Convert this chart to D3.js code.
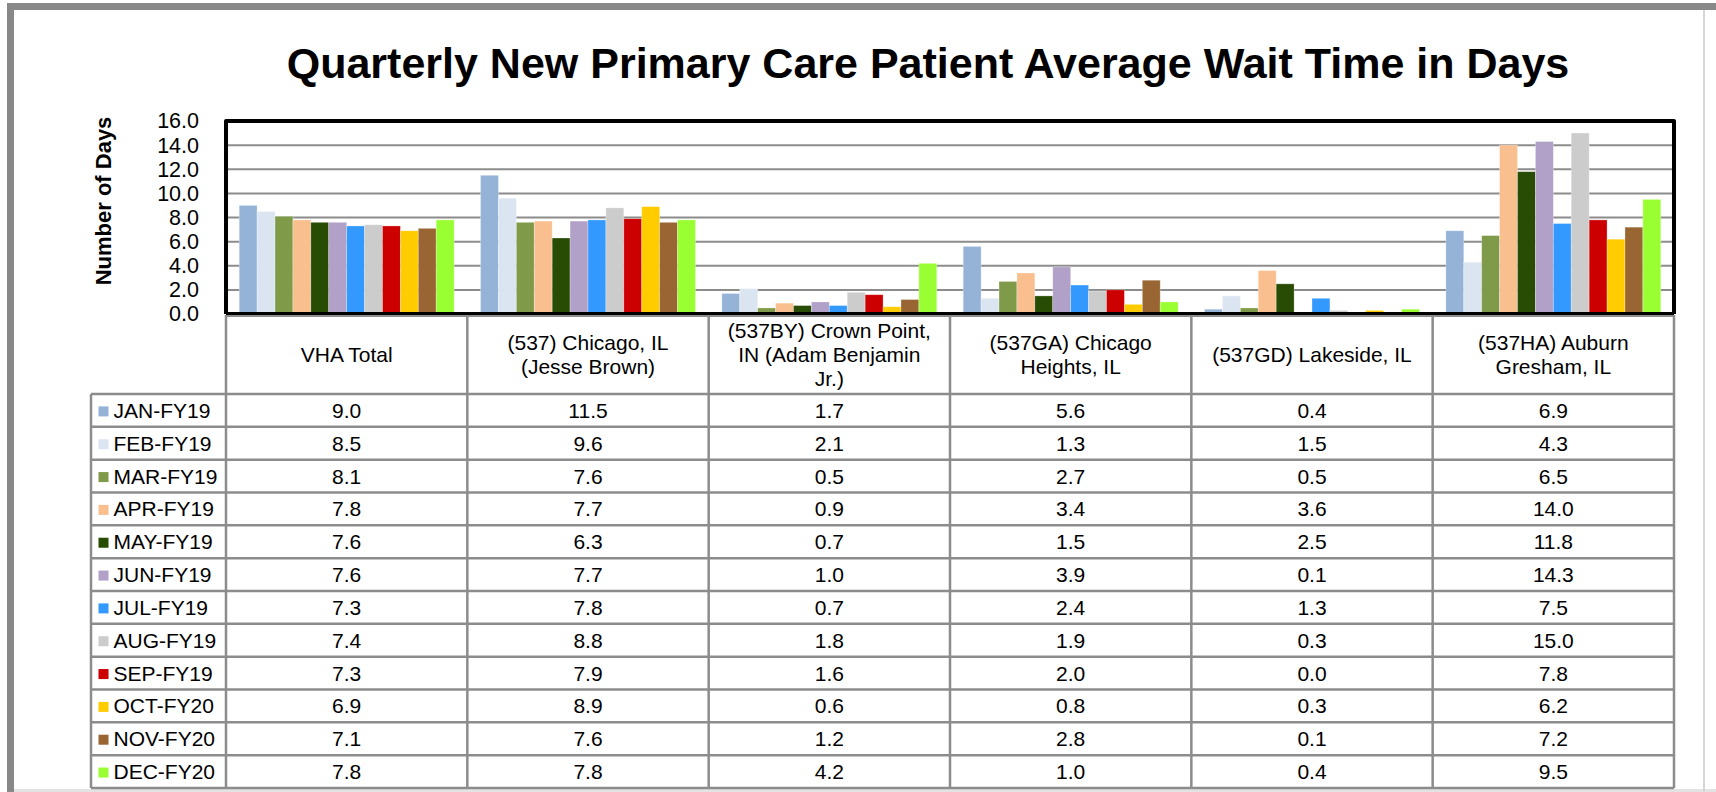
<!DOCTYPE html>
<html>
<head>
<meta charset="utf-8">
<script src="https://cdn.jsdelivr.net/npm/d3@7"></script>
<style>
  body { margin: 0; background: #fff; }
  svg { display: block; font-family: "Liberation Sans", Arial, sans-serif; }
</style>
</head>
<body>
<div id="chart"></div>
<script>
// DATA
var categories = [
  [ 'VHA Total' ],
  [ '(537) Chicago, IL', '(Jesse Brown)' ],
  [ '(537BY) Crown Point,', 'IN (Adam Benjamin', 'Jr.)' ],
  [ '(537GA) Chicago', 'Heights, IL' ],
  [ '(537GD) Lakeside, IL' ],
  [ '(537HA) Auburn', 'Gresham, IL' ]
];

var months = [ 'JAN-FY19', 'FEB-FY19', 'MAR-FY19', 'APR-FY19', 'MAY-FY19', 'JUN-FY19',
  'JUL-FY19', 'AUG-FY19', 'SEP-FY19', 'OCT-FY20', 'NOV-FY20', 'DEC-FY20' ];

var janFY19 = [ 9.0, 11.5, 1.7, 5.6, 0.4, 6.9 ];
var febFY19 = [ 8.5, 9.6, 2.1, 1.3, 1.5, 4.3 ];
var marFY19 = [ 8.1, 7.6, 0.5, 2.7, 0.5, 6.5 ];
var aprFY19 = [ 7.8, 7.7, 0.9, 3.4, 3.6, 14.0 ];
var mayFY19 = [ 7.6, 6.3, 0.7, 1.5, 2.5, 11.8 ];
var junFY19 = [ 7.6, 7.7, 1.0, 3.9, 0.1, 14.3 ];
var julFY19 = [ 7.3, 7.8, 0.7, 2.4, 1.3, 7.5 ];
var augFY19 = [ 7.4, 8.8, 1.8, 1.9, 0.3, 15.0 ];
var sepFY19 = [ 7.3, 7.9, 1.6, 2.0, 0.0, 7.8 ];
var octFY20 = [ 6.9, 8.9, 0.6, 0.8, 0.3, 6.2 ];
var novFY20 = [ 7.1, 7.6, 1.2, 2.8, 0.1, 7.2 ];
var decFY20 = [ 7.8, 7.8, 4.2, 1.0, 0.4, 9.5 ];

var series = [ janFY19, febFY19, marFY19, aprFY19, mayFY19, junFY19,
  julFY19, augFY19, sepFY19, octFY20, novFY20, decFY20 ];

var yTicks = [ 0, 2, 4, 6, 8, 10, 12, 14, 16 ];

var monthColors = [ '#95b3d7', '#dbe5f1', '#7f9a48', '#f9bf8f', '#284c03', '#b1a0c7',
  '#3399ff', '#cccccc', '#cc0000', '#ffcc00', '#996633', '#99ff33' ];

// LAYOUT
var width = 1716, height = 792;
var plotLeft = 226, plotRight = 1674, plotTop = 121, plotBottom = 314;
var headerBottom = 394, rowHeight = 32.83;
var legendLeft = 91;
var gridColor = '#8c8c8c';
var fontSize = 21;

var svg = d3.select( '#chart' ).append( 'svg' )
  .attr( 'width', width )
  .attr( 'height', height );

// outer frame
svg.append( 'rect' ).attr( 'x', 7 ).attr( 'y', 3 ).attr( 'width', width - 7 ).attr( 'height', 7 ).attr( 'fill', '#888' );
svg.append( 'rect' ).attr( 'x', 7 ).attr( 'y', 3 ).attr( 'width', 7 ).attr( 'height', height - 3 ).attr( 'fill', '#888' );
svg.append( 'rect' ).attr( 'x', 14 ).attr( 'y', 789 ).attr( 'width', width - 14 ).attr( 'height', 3 ).attr( 'fill', '#e3e3e3' );
svg.append( 'rect' ).attr( 'x', 1703 ).attr( 'y', 10 ).attr( 'width', 2 ).attr( 'height', height - 10 ).attr( 'fill', '#d6d6d6' );

// SCALES
var x0 = d3.scaleBand()
  .domain( d3.range( categories.length ) )
  .range( [ plotLeft, plotRight ] );

var barPad = 13.2;
var x1 = d3.scaleBand()
  .domain( d3.range( months.length ) )
  .range( [ barPad, x0.bandwidth() - barPad ] );

var y = d3.scaleLinear()
  .domain( [ 0, 16 ] )
  .range( [ plotBottom, plotTop ] );

// title
svg.append( 'text' )
  .attr( 'x', 928 )
  .attr( 'y', 78 )
  .attr( 'text-anchor', 'middle' )
  .attr( 'font-size', '43px' )
  .attr( 'font-weight', 'bold' )
  .attr( 'fill', '#000' )
  .text( 'Quarterly New Primary Care Patient Average Wait Time in Days' );

// y axis title
svg.append( 'text' )
  .attr( 'transform', 'translate(111,201) rotate(-90)' )
  .attr( 'text-anchor', 'middle' )
  .attr( 'font-size', '22px' )
  .attr( 'font-weight', 'bold' )
  .attr( 'fill', '#000' )
  .text( 'Number of Days' );

// gridlines
svg.selectAll( '.grid' )
  .data( yTicks.filter( function( d ) { return d > 0 && d < 16; } ) )
  .enter()
  .append( 'line' )
  .attr( 'class', 'grid' )
  .attr( 'x1', plotLeft )
  .attr( 'x2', plotRight )
  .attr( 'y1', function( d ) { return y( d ); } )
  .attr( 'y2', function( d ) { return y( d ); } )
  .attr( 'stroke', gridColor )
  .attr( 'stroke-width', 2 );

// y axis labels
var yAxis = d3.axisLeft( y )
  .tickValues( yTicks )
  .tickFormat( d3.format( '.1f' ) )
  .tickSize( 0 )
  .tickPadding( 27 );

var yAxisG = svg.append( 'g' )
  .attr( 'transform', 'translate(' + plotLeft + ',0)' )
  .call( yAxis );
yAxisG.select( '.domain' ).remove();
yAxisG.selectAll( 'text' )
  .attr( 'font-family', '"Liberation Sans", Arial, sans-serif' )
  .attr( 'font-size', '21.5px' )
  .attr( 'fill', '#000' );

// bars
var groups = svg.selectAll( '.cat' )
  .data( categories )
  .enter()
  .append( 'g' )
  .attr( 'class', 'cat' )
  .attr( 'transform', function( d, i ) { return 'translate(' + x0( i ) + ',0)'; } );

groups.selectAll( 'rect' )
  .data( function( d, i ) {
    return series.map( function( s, m ) { return { m: m, v: s[ i ] }; } );
  } )
  .enter()
  .append( 'rect' )
  .attr( 'x', function( d ) { return x1( d.m ); } )
  .attr( 'width', x1.bandwidth() )
  .attr( 'y', function( d ) { return y( d.v ); } )
  .attr( 'height', function( d ) { return y( 0 ) - y( d.v ); } )
  .attr( 'fill', function( d ) { return monthColors[ d.m ]; } )
  .attr( 'stroke', '#ffffff' )
  .attr( 'stroke-opacity', 0.35 )
  .attr( 'stroke-width', 0.8 );

// plot frame
svg.append( 'path' )
  .attr( 'd', 'M' + plotLeft + ',' + plotBottom + 'V' + plotTop + 'H' + plotRight + 'V' + plotBottom )
  .attr( 'fill', 'none' )
  .attr( 'stroke', '#000' )
  .attr( 'stroke-width', 4 )
  .attr( 'stroke-linejoin', 'round' );
svg.append( 'line' )
  .attr( 'x1', plotLeft ).attr( 'x2', plotRight )
  .attr( 'y1', plotBottom - 0.5 ).attr( 'y2', plotBottom - 0.5 )
  .attr( 'stroke', '#000' )
  .attr( 'stroke-width', 3 );

// DATA TABLE
var tableBottom = headerBottom + rowHeight * months.length;
var tableG = svg.append( 'g' );

// horizontal lines
tableG.append( 'line' )
  .attr( 'x1', plotLeft ).attr( 'x2', plotRight )
  .attr( 'y1', plotBottom + 2 ).attr( 'y2', plotBottom + 2 )
  .attr( 'stroke', gridColor ).attr( 'stroke-width', 2 );

tableG.selectAll( '.hline' )
  .data( d3.range( months.length + 1 ) )
  .enter()
  .append( 'line' )
  .attr( 'class', 'hline' )
  .attr( 'x1', legendLeft )
  .attr( 'x2', plotRight )
  .attr( 'y1', function( r ) { return headerBottom + r * rowHeight; } )
  .attr( 'y2', function( r ) { return headerBottom + r * rowHeight; } )
  .attr( 'stroke', gridColor )
  .attr( 'stroke-width', 2.5 );

// vertical lines
tableG.selectAll( '.vline' )
  .data( d3.range( categories.length + 1 ) )
  .enter()
  .append( 'line' )
  .attr( 'class', 'vline' )
  .attr( 'x1', function( i ) { return i < categories.length ? x0( i ) : plotRight; } )
  .attr( 'x2', function( i ) { return i < categories.length ? x0( i ) : plotRight; } )
  .attr( 'y1', plotBottom + 1 )
  .attr( 'y2', tableBottom )
  .attr( 'stroke', gridColor )
  .attr( 'stroke-width', 2.5 );

tableG.append( 'line' )
  .attr( 'x1', legendLeft ).attr( 'x2', legendLeft )
  .attr( 'y1', headerBottom ).attr( 'y2', tableBottom )
  .attr( 'stroke', gridColor ).attr( 'stroke-width', 2.5 );

// header labels
var headerMid = ( plotBottom + headerBottom ) / 2;
categories.forEach( function( lines, i ) {
  var t = tableG.append( 'text' )
    .attr( 'text-anchor', 'middle' )
    .attr( 'font-size', fontSize + 'px' )
    .attr( 'fill', '#000' );
  lines.forEach( function( line, k ) {
    t.append( 'tspan' )
      .attr( 'x', x0( i ) + x0.bandwidth() / 2 )
      .attr( 'y', headerMid + ( k - ( lines.length - 1 ) / 2 ) * 24 + 7.5 )
      .text( line );
  } );
} );

// legend column and values
months.forEach( function( month, m ) {
  var mid = headerBottom + m * rowHeight + rowHeight / 2;

  tableG.append( 'rect' )
    .attr( 'x', 98.5 )
    .attr( 'y', mid - 4 )
    .attr( 'width', 10 )
    .attr( 'height', 10 )
    .attr( 'fill', monthColors[ m ] );

  tableG.append( 'text' )
    .attr( 'x', 113.5 )
    .attr( 'y', mid + 7.5 )
    .attr( 'font-size', fontSize + 'px' )
    .attr( 'fill', '#000' )
    .text( month );

  series[ m ].forEach( function( v, i ) {
    tableG.append( 'text' )
      .attr( 'x', x0( i ) + x0.bandwidth() / 2 )
      .attr( 'y', mid + 7.5 )
      .attr( 'text-anchor', 'middle' )
      .attr( 'font-size', fontSize + 'px' )
      .attr( 'fill', '#000' )
      .text( d3.format( '.1f' )( v ) );
  } );
} );
</script>
</body>
</html>
